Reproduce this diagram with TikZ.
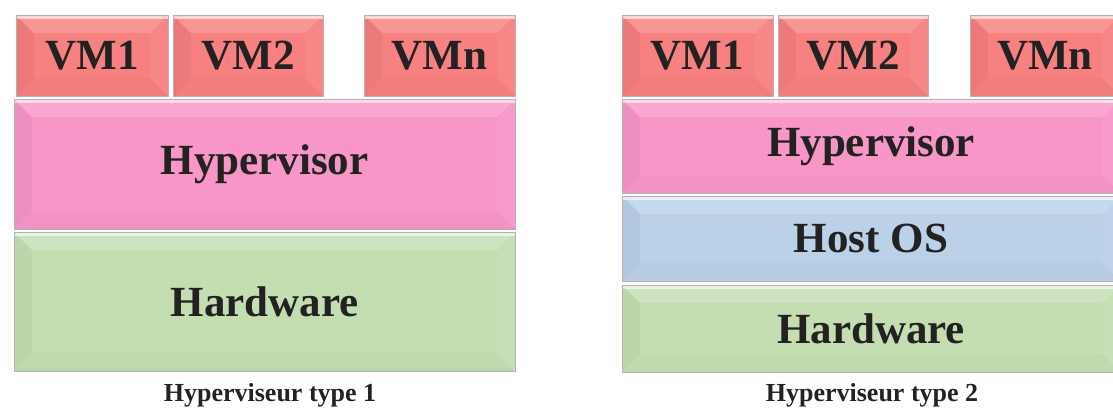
\documentclass[tikz,border=0pt]{standalone}
\usepackage{fontspec}
\setmainfont{Liberation Serif}

\definecolor{vmred}{RGB}{247,128,128}
\definecolor{hyppink}{RGB}{247,150,199}
\definecolor{hostblue}{RGB}{186,209,232}
\definecolor{hwgreen}{RGB}{196,222,178}
\definecolor{txt}{RGB}{34,34,34}

\tikzset{
    bevel/.style={path picture={
        % top face
        \fill[white,opacity=.18] (path picture bounding box.north west) -- (path picture bounding box.north east)
            -- ([shift={(-18pt,-18pt)}]path picture bounding box.north east) -- ([shift={(18pt,-18pt)}]path picture bounding box.north west) -- cycle;
        % left face
        \fill[black,opacity=.04] (path picture bounding box.north west) -- ([shift={(18pt,-18pt)}]path picture bounding box.north west)
            -- ([shift={(18pt,18pt)}]path picture bounding box.south west) -- (path picture bounding box.south west) -- cycle;
        % right face
        \fill[white,opacity=.06] (path picture bounding box.north east) -- ([shift={(-18pt,-18pt)}]path picture bounding box.north east)
            -- ([shift={(-18pt,18pt)}]path picture bounding box.south east) -- (path picture bounding box.south east) -- cycle;
        % bottom face
        \fill[black,opacity=.02] (path picture bounding box.south west) -- ([shift={(18pt,18pt)}]path picture bounding box.south west)
            -- ([shift={(-18pt,18pt)}]path picture bounding box.south east) -- (path picture bounding box.south east) -- cycle;
        % bright rim on top
        \draw[white,opacity=.6,line width=3pt] ([yshift=-2pt]path picture bounding box.north west) -- ([yshift=-2pt]path picture bounding box.north east);
    }},
    layer/.style={draw=black!30, line width=.7pt, inner sep=0pt, text=txt,
        font=\bfseries\fontsize{43}{43}\selectfont, bevel},
    vm/.style={layer, fill=vmred, minimum height=81pt},
    hyp/.style={layer, fill=hyppink},
    host/.style={layer, fill=hostblue},
    hw/.style={layer, fill=hwgreen},
    caption/.style={text=txt, font=\bfseries\fontsize{26}{26}\selectfont}
}

\begin{document}
\begin{tikzpicture}[x=1pt,y=-1pt]
    \useasboundingbox (0,0) rectangle (1113,408);
    \clip (0,0) rectangle (1113,408);

    % Type 1: VMs straight on the hypervisor
    \node[vm, minimum width=152pt] (vmA) at (92,55.5) {VM1};
    \node[vm, minimum width=150pt] (vmB) at (248,55.5) {VM2};
    \node[vm, minimum width=151pt] (vmC) at (439.5,55.5) {VMn};
    \node[hyp, minimum width=501pt, minimum height=130pt] (hypA) at (264.5,164) {Hypervisor};
    \node[hw, minimum width=501pt, minimum height=139pt] (hwA) at (264.5,301.5) {Hardware};
    \node[caption] (capA) at (270,395) {Hyperviseur type 1};

    % Type 2: hypervisor sits on a host OS
    \node[vm, minimum width=151pt] (vmD) at (697.5,55.5) {VM1};
    \node[vm, minimum width=150pt] (vmE) at (853,55.5) {VM2};
    \node[vm, minimum width=150pt] (vmF) at (1045,55.5) {VMn};
    \node[hyp, minimum width=498pt, minimum height=94pt] (hypB) at (871,146) {Hypervisor};
    \node[host, minimum width=498pt, minimum height=85pt] (hostB) at (871,238.5) {Host OS};
    \node[hw, minimum width=498pt, minimum height=87pt] (hwB) at (871,328.5) {Hardware};
    \node[caption] (capB) at (872,395) {Hyperviseur type 2};
\end{tikzpicture}
\end{document}
